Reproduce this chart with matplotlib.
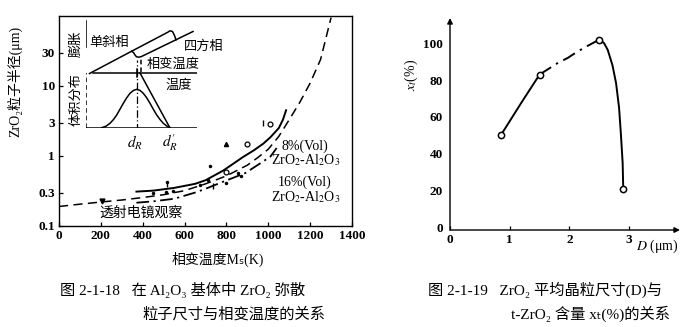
import matplotlib.pyplot as plt

plt.rcParams['font.family'] = ['Liberation Serif', 'Noto Sans CJK SC', 'DejaVu Sans']
plt.rcParams['mathtext.fontset'] = 'stix'
plt.rcParams['axes.unicode_minus'] = False

# ---- 图 2-1-18: ZrO2 粒子半径 vs 相变温度 Ms ----
ms_ticks = [0, 200, 400, 600, 800, 1000, 1200, 1400]
r_ticks = [0.1, 0.3, 1, 3, 10, 30]
r_labels = ['0.1', '0.3', '1', '3', '10', '30']

# long dashed curve
dash_T = [0, 100, 200, 300, 400, 500, 600, 700, 800, 900, 950, 1000, 1050, 1100, 1150, 1200, 1250, 1300]
dash_r = [0.19, 0.205, 0.22, 0.235, 0.255, 0.28, 0.32, 0.4, 0.52, 0.74, 0.95, 1.25, 1.9, 3.3, 5.8, 11, 24, 95]
# 8%(Vol) ZrO2-Al2O3, solid
vol8_T = [370, 450, 550, 650, 700, 785, 880, 930, 976, 1010, 1050, 1070, 1085]
vol8_r = [0.31, 0.32, 0.35, 0.4, 0.45, 0.62, 0.97, 1.2, 1.5, 1.85, 2.5, 3.3, 4.5]
# 16%(Vol) ZrO2-Al2O3, dash-dot
vol16_T = [370, 450, 550, 650, 700, 785, 890, 960, 1010, 1040]
vol16_r = [0.215, 0.225, 0.245, 0.3, 0.34, 0.43, 0.57, 0.78, 0.98, 1.3]

# 透射电镜观察 data marks
tem_T = [205]
tem_r = [0.23]
circ_T = [900, 1010, 800]
circ_r = [1.5, 2.9, 0.6]
tri_T = [800]
tri_r = [1.5]
dot_T = [450, 510, 545, 515, 675, 712, 722, 800, 855, 870]
dot_r = [0.30, 0.31, 0.32, 0.42, 0.39, 0.46, 0.73, 0.41, 0.57, 0.52]
bar_T = [515, 737, 975]
bar_r = [0.40, 0.37, 2.95]

# inset schematic (膨胀 / 体积分布), in its own units
mono_x = [3.5, 45.5, 82, 84, 86.5, 88.5, 90]
mono_y = [54.5, 76.7, 95.9, 97.2, 96.5, 92.5, 88.2]
notch_x = [45.5, 47.5, 49, 50.5, 53, 55.5, 107]
notch_y = [76.7, 75.5, 73, 71.2, 70.8, 71.5, 96.5]
bell_x = [15.7, 20, 24, 27.5, 30.7, 34, 37.3, 40.7, 44, 47.5, 50.7, 54, 57.3, 60.7, 64, 67.3, 70.7, 74, 77.3, 81, 84]
bell_y = [0.3, 1.8, 4.7, 8.5, 13, 18.8, 24.7, 30.2, 34.7, 37.6, 38.7, 37.6, 34.7, 30.2, 24.7, 18.8, 13, 8.5, 4.7, 1.8, 0.3]

# ---- 图 2-1-19: xt vs D ----
D_pts = [0.85, 1.5, 2.5, 2.9]
xt_pts = [50, 83, 102, 21]
seg1_D = [0.85, 1.2, 1.5]
seg1_xt = [50, 68, 83]
seg2_D = [1.5, 1.79, 1.97, 2.13, 2.3, 2.5]
seg2_xt = [83, 89, 92, 95.4, 98.5, 102]
seg3_D = [2.5, 2.58, 2.64, 2.72, 2.78, 2.83, 2.86, 2.89, 2.9]
seg3_xt = [102, 100, 96.4, 88, 78.3, 65, 51, 35, 21]
D_ticks = [0, 1, 2, 3]
xt_ticks = [0, 20, 40, 60, 80, 100]

W, H = 700, 327
fig = plt.figure(figsize=(W / 100, H / 100), dpi=100)
fig.patch.set_facecolor('white')


def box(x0, y0, x1, y1):
    # pixel box (y from top) -> figure fraction rect
    return [x0 / W, 1 - y1 / H, (x1 - x0) / W, (y1 - y0) / H]


tick_font = dict(fontsize=9.5, fontweight='bold')

# left chart
ax1 = fig.add_axes(box(59, 16, 352, 226))
ax1.set_yscale('log')
ax1.set_xlim(0, 1400)
ax1.set_ylim(0.1, 100)
ax1.set_xticks(ms_ticks, labels=[str(t) for t in ms_ticks], **tick_font)
ax1.set_yticks(r_ticks, labels=r_labels, **tick_font)
ax1.minorticks_off()
ax1.tick_params(direction='in', length=3, width=0.9, pad=3)
for s in ax1.spines.values():
    s.set_linewidth(1.0)

ax1.plot(dash_T, dash_r, color='k', lw=1.1, linestyle=(0, (6, 3.5)))
ax1.plot(vol8_T, vol8_r, color='k', lw=1.4)
ax1.plot(vol16_T, vol16_r, color='k', lw=1.3, linestyle=(0, (7, 2.5, 1.2, 2.5)))
ax1.plot(tem_T, tem_r, 'v', color='k', ms=3.5)
ax1.plot(circ_T, circ_r, 'o', mfc='white', mec='k', mew=0.9, ms=3.5)
ax1.plot(tri_T, tri_r, '^', color='k', ms=3)
ax1.plot(dot_T, dot_r, '.', color='k', ms=3)
ax1.plot(bar_T, bar_r, '|', color='k', ms=4, mew=1)

lab = dict(fontsize=10, ha='center', va='center')
ax1.text(1175, 1.4, '8%(Vol)', **lab)
ax1.text(1180, 0.88, 'ZrO$_2$-Al$_2$O$_3$', **lab)
ax1.text(1175, 0.416, '16%(Vol)', **lab)
ax1.text(1180, 0.262, 'ZrO$_2$-Al$_2$O$_3$', **lab)
ax1.text(392, 0.152, '透射电镜观察', **lab)

ax1.set_ylabel('ZrO₂粒子半径(μm)', fontsize=10)
ax1.yaxis.set_label_coords(-0.125, 0.69)
ax1.set_xlabel('相变温度Mₛ(K)', fontsize=10)
ax1.xaxis.set_label_coords(0.543, -0.125)

# inset schematic
ax3 = fig.add_axes(box(86, 20, 197, 128))
ax3.set_xlim(0, 111)
ax3.set_ylim(0, 108)
ax3.axis('off')
lk = dict(color='k', lw=1.1)
ax3.plot(mono_x, mono_y, **lk)
ax3.plot(notch_x, notch_y, **lk)
ax3.plot([7, 111], [55, 55], **lk)
ax3.plot([0, 0], [81, 107], **lk)
ax3.plot([0, 0], [0, 55], color='k', lw=1.1, linestyle=(0, (3, 2)))
ax3.plot([0, 111], [0, 0], **lk)
ax3.plot([55, 55], [56, 70], color='k', lw=1.1, linestyle=(0, (3, 2)))
ax3.plot([50.7, 50.7], [-3, 68], color='k', lw=0.9, linestyle=(0, (6, 2, 1, 2)))
ax3.plot([50.7, 50.7], [51, 59], **lk)
ax3.plot(bell_x, bell_y, **lk)
ax3.plot([54, 84], [55, 0], **lk)
ins = dict(fontsize=9.5, ha='center', va='center', clip_on=False)
ax3.text(-10, 84, '膨胀', rotation=90, **ins)
ax3.text(-10, 28, '体积分布', rotation=90, **ins)
ax3.text(3, 85.5, '单斜相', fontsize=9.5, ha='left', va='center')
ax3.text(118, 81.3, '四方相', **ins)
ax3.text(87, 63, '相变温度', **ins)
ax3.text(93, 42, '温度', **ins)
ax3.text(49, -15, '$d_R$', fontsize=11, ha='center', va='center', clip_on=False)
ax3.text(84, -15, r'$d_R^{\prime}$', fontsize=11, ha='center', va='center', clip_on=False)

# right chart
ax2 = fig.add_axes(box(450, 18, 680, 230))
ax2.set_xlim(0, 3.85)
ax2.set_ylim(-1.4, 113.7)
for s in ax2.spines.values():
    s.set_visible(False)
arr = dict(arrowstyle='-|>', lw=1.0, color='k', mutation_scale=8, shrinkA=0, shrinkB=0)
ax2.annotate('', xy=(1, 0), xytext=(0, 0), xycoords='axes fraction', arrowprops=arr)
ax2.annotate('', xy=(0, 1), xytext=(0, 0), xycoords='axes fraction', arrowprops=arr)
ax2.set_xticks(D_ticks, labels=[str(t) for t in D_ticks], **tick_font)
ax2.set_yticks(xt_ticks, labels=[str(t) for t in xt_ticks], **tick_font)
ax2.tick_params(axis='x', direction='in', length=3, width=0.9, pad=3)
ax2.tick_params(axis='y', direction='in', length=0, pad=5)

ax2.plot(seg1_D, seg1_xt, color='k', lw=1.4)
ax2.plot(seg2_D, seg2_xt, color='k', lw=1.4, linestyle=(0, (7, 3, 1.2, 3)))
ax2.plot(seg3_D, seg3_xt, color='k', lw=1.4)
ax2.plot(D_pts, xt_pts, 'o', mfc='white', mec='k', mew=1.1, ms=4.5, zorder=3)

ax2.text(0.9, -0.075, '$D$ (μm)', fontsize=10, ha='center', va='center', transform=ax2.transAxes)
ax2.text(-0.17, 0.73, '$x_t$(%)', fontsize=10, rotation=90, ha='center', va='center', transform=ax2.transAxes)

# captions
cap = dict(fontsize=11, ha='left', va='center')
fig.text(60 / W, 1 - 290 / H, '图 2-1-18   在 Al₂O₃ 基体中 ZrO₂ 弥散', **cap)
fig.text(142 / W, 1 - 314 / H, '粒子尺寸与相变温度的关系', **cap)
fig.text(428 / W, 1 - 290 / H, '图 2-1-19   ZrO₂ 平均晶粒尺寸(D)与', **cap)
fig.text(511 / W, 1 - 314 / H, 't-ZrO₂ 含量 xₜ(%)的关系', **cap)

fig.savefig('out.png', dpi=100, facecolor='white')
